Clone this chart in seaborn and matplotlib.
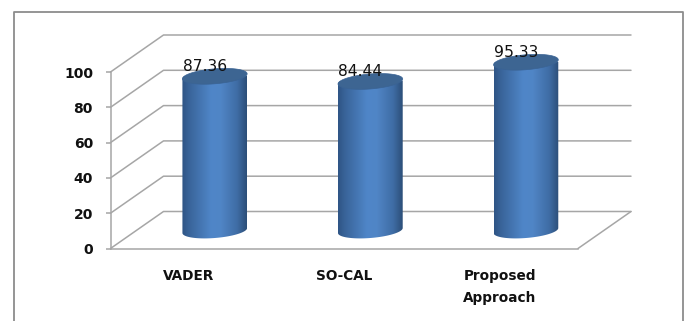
import numpy as np
import pandas as pd
import matplotlib
matplotlib.use("Agg")
import matplotlib.pyplot as plt
from matplotlib.colors import LinearSegmentedColormap
from matplotlib.patches import Polygon
from matplotlib.path import Path
from matplotlib.transforms import IdentityTransform
import seaborn as sns

methods = ["VADER", "SO-CAL", "Proposed"]
tick_names = ["VADER", "SO-CAL", "Proposed\nApproach"]
accuracy = [87.36, 84.44, 95.33]
scale_ticks = [0, 20, 40, 60, 80, 100]

W, H = 689, 321
GRID = "#a6a6a6"
TEXT = "#111111"

sns.set_theme(style="white")
plt.rcParams["font.family"] = ["DejaVu Sans"]
fig = plt.figure(figsize=(W / 100, H / 100), dpi=100, facecolor="white")


def place(left, top, right, bottom):
    """Axes rectangle given in pixels from the top-left corner."""
    return fig.add_axes([left / W, 1 - bottom / H, (right - left) / W, (bottom - top) / H])


def sheared_arc(cx, cy, half_w, half_h, rise, start, stop):
    """Points of an ellipse sheared so its right side sits higher than its left."""
    t = np.linspace(start, stop, 80)
    return np.column_stack([cx + half_w * np.cos(t), cy + half_h * np.sin(t) + rise * np.cos(t)])


# Pixel canvas for the outer frame and the receding walls
canvas = place(0, 0, W, H)
canvas.set_xlim(0, W)
canvas.set_ylim(H, 0)
canvas.axis("off")
canvas.plot([14, 14, 683, 683], [H, 11.5, 11.5, H], color="#8c8c8c", lw=1.3)

y0, y100 = 248.5, 72.0
depth_x, depth_y = 53, 37
for v in scale_ticks:
    y = y0 + (y100 - y0) * v / 100
    canvas.plot([110.5, 110.5 + depth_x, 631], [y, y - depth_y, y - depth_y], color=GRID, lw=1.1)
canvas.plot([578, 631], [y0, y0 - depth_y], color=GRID, lw=1.1)

# Front axis with the value scale and the category ticks
front = place(110.5, y100, 578, y0)
front.patch.set_alpha(0)
front.set_xlim(-0.5, 2.5)
front.set_ylim(0, 100)
front.set_yticks(scale_ticks)
front.set_yticklabels([str(v) for v in scale_ticks], fontsize=10, fontweight="bold", color=TEXT)
front.set_xticks([-0.5, 0.5, 1.5, 2.5])
front.set_xticklabels([])
front.set_xticks([0, 1, 2], minor=True)
front.set_xticklabels(tick_names, minor=True, fontsize=9.8, fontweight="bold", color=TEXT, linespacing=1.7)
front.tick_params(axis="x", which="major", length=3.6, width=1.1, color=GRID, direction="out")
front.tick_params(axis="x", which="minor", length=0, pad=15)
front.tick_params(axis="y", length=3.6, width=1.1, color=GRID, direction="out", pad=9, left=True)
for side in ("top", "right"):
    front.spines[side].set_visible(False)
for side in ("left", "bottom"):
    front.spines[side].set_color(GRID)
    front.spines[side].set_linewidth(1.1)

# Cylinders stand on the mid-depth plane, so they get their own axes
base_y, unit = 230.5, 1.765
ax = place(137, base_y - 100 * unit, 603.7, base_y)
ax.patch.set_alpha(0)
frame = pd.DataFrame({"method": methods, "accuracy": accuracy})
sns.barplot(data=frame, x="method", y="accuracy", width=0.416, color="#4f81bd", saturation=1, ax=ax)
ax.set_xlim(-0.5, 2.5)
ax.set_ylim(0, 100)
ax.axis("off")

shade = LinearSegmentedColormap.from_list(
    "cylinder",
    [(0, "#2f5585"), (0.12, "#3a659b"), (0.45, "#4f86c8"), (0.6, "#5085c6"), (0.85, "#3f6da5"), (1, "#2c4e78")],
)
ramp = np.linspace(0, 1, 256)[None, :]
fig.canvas.draw()
half_h, rise = 7.5, 2.5
pixels = IdentityTransform()
for bar, value in zip(ax.patches, accuracy):
    (x0, yb), (x1, yt) = ax.transData.transform(
        [(bar.get_x(), 0), (bar.get_x() + bar.get_width(), value)]
    )
    bar.set_visible(False)
    cx = (x0 + x1) / 2
    half_w = (x1 - x0) / 2
    # Side wall: horizontal shading clipped to the lower arc of the foot and the top edge
    grad = ax.imshow(ramp, cmap=shade, aspect="auto", zorder=3, transform=pixels,
                     extent=(x0, x1, yb - 12, yt), interpolation="bilinear")
    lower = sheared_arc(cx, yb, half_w, half_h, rise, np.pi, 2 * np.pi)
    upper = sheared_arc(cx, yt, half_w, half_h, rise, 0, np.pi)
    grad.set_clip_box(fig.bbox)
    grad.set_clip_path(Path(np.vstack([lower, upper, lower[:1]]), closed=True), pixels)
    # Cap of the cylinder
    cap = sheared_arc(cx, yt, half_w, half_h, rise, 0, 2 * np.pi)
    ax.add_patch(Polygon(cap, closed=True, transform=pixels, facecolor="#3d6592",
                         edgecolor="#3a6394", lw=0.5, zorder=4, clip_on=False))
    ax.annotate(f"{value:.2f}", xy=(cx - 10, yt + 5.5), xycoords=pixels,
                ha="center", va="baseline", fontsize=11.2, color=TEXT, zorder=5, annotation_clip=False)
ax.set_xlim(-0.5, 2.5)
ax.set_ylim(0, 100)

fig.savefig("out.png", dpi=100)
